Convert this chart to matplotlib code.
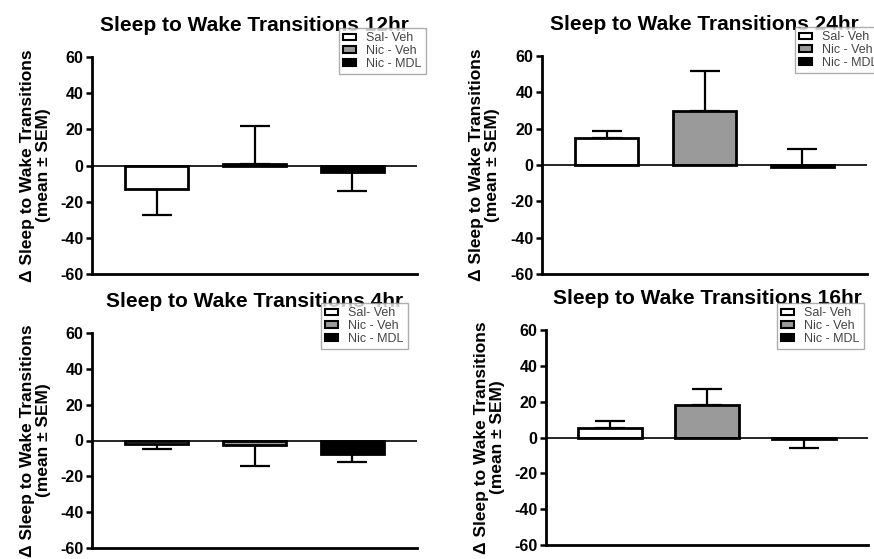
import matplotlib
matplotlib.use("Agg")
import matplotlib.pyplot as plt
import numpy as np

plt.rcParams["font.family"] = ["Liberation Sans", "DejaVu Sans"]
plt.rcParams["axes.unicode_minus"] = False

# groups and bar styles
groups = ["Sal- Veh", "Nic - Veh", "Nic - MDL"]
bar_colors = ["white", "#9a9a9a", "black"]

# panel titles
titles = ["Sleep to Wake Transitions 12hr", "Sleep to Wake Transitions 24hr",
          "Sleep to Wake Transitions 4hr", "Sleep to Wake Transitions 16hr"]

# means per panel (Sal-Veh, Nic-Veh, Nic-MDL)
mean_12 = [-12.9, 1.0, -3.7]
mean_24 = [14.7, 30.0, -1.1]
mean_4 = [-1.8, -2.5, -7.4]
mean_16 = [5.2, 18.2, -1.0]

# SEM drawn one-sided: lower and upper
err_lo_12 = [14.2, 0, 10.5]
err_hi_12 = [0, 20.6, 0]
err_lo_24 = [0, 0, 0]
err_hi_24 = [4.1, 22.0, 9.9]
err_lo_4 = [2.8, 12.0, 4.6]
err_hi_4 = [0, 0, 0]
err_lo_16 = [0, 0, 5.1]
err_hi_16 = [3.9, 8.7, 0]

means = [mean_12, mean_24, mean_4, mean_16]
errs = [(err_lo_12, err_hi_12), (err_lo_24, err_hi_24),
        (err_lo_4, err_hi_4), (err_lo_16, err_hi_16)]

W, H = 874, 559
fig = plt.figure(figsize=(W / 100, H / 100), dpi=100)

# axes boxes in pixels: left, top, right, bottom
boxes = [(92, 57, 417, 274), (542, 56, 867, 274),
         (92, 333, 417, 548), (546, 330, 868, 545)]
# right edge of the y label block, pixels
label_x = [51, 500, 51, 505]
# legend upper-left corners in pixels
leg_pos = [(339, 28), (795, 27), (321, 303), (777, 303)]

x = np.arange(len(groups))
for i in range(4):
    l, t, r, b = boxes[i]
    ax = fig.add_axes([l / W, 1 - b / H, (r - l) / W, (b - t) / H])
    ax.errorbar(x, means[i], yerr=[errs[i][0], errs[i][1]], fmt="none",
                ecolor="black", elinewidth=1.6, capsize=11, capthick=1.6, zorder=1)
    ax.bar(x, means[i], width=0.65, color=bar_colors, edgecolor="black",
           linewidth=2.0, label=groups, zorder=2)
    ax.axhline(0, color="black", lw=1.2, zorder=3)
    ax.set_xlim(-0.66, 2.66)
    ax.set_ylim(-60, 60)
    ax.set_yticks([-60, -40, -20, 0, 20, 40, 60])
    ax.set_xticks([])
    for lab in ax.get_yticklabels():
        lab.set_fontweight("bold")
    ax.tick_params(axis="y", direction="out", length=4, width=1.8, labelsize=11.5, pad=2)
    for s in ["top", "right"]:
        ax.spines[s].set_visible(False)
    for s in ["left", "bottom"]:
        ax.spines[s].set_linewidth(2.0)
    ax.set_title(titles[i], fontsize=15, fontweight="bold", pad=19)
    ax.set_ylabel("\u0394 Sleep to Wake Transitions\n(mean \u00b1 SEM)",
                  fontsize=12.5, fontweight="bold", linespacing=1.05)
    ax.yaxis.set_label_coords((label_x[i] - l) / (r - l), 0.5)

    lx, ly = leg_pos[i]
    leg = ax.legend(loc="upper left", bbox_to_anchor=(lx / W, 1 - ly / H),
                    bbox_transform=fig.transFigure, fontsize=9, frameon=True,
                    fancybox=False, edgecolor="#999999", labelspacing=0.05,
                    handlelength=1.0, handleheight=0.45, handletextpad=0.8,
                    borderpad=0.35, borderaxespad=0)
    leg.get_frame().set_linewidth(1.0)
    for txt in leg.get_texts():
        txt.set_color("#444444")
    for h in leg.legend_handles:
        h.set_linewidth(1.5)

fig.savefig("out.png", dpi=100)
